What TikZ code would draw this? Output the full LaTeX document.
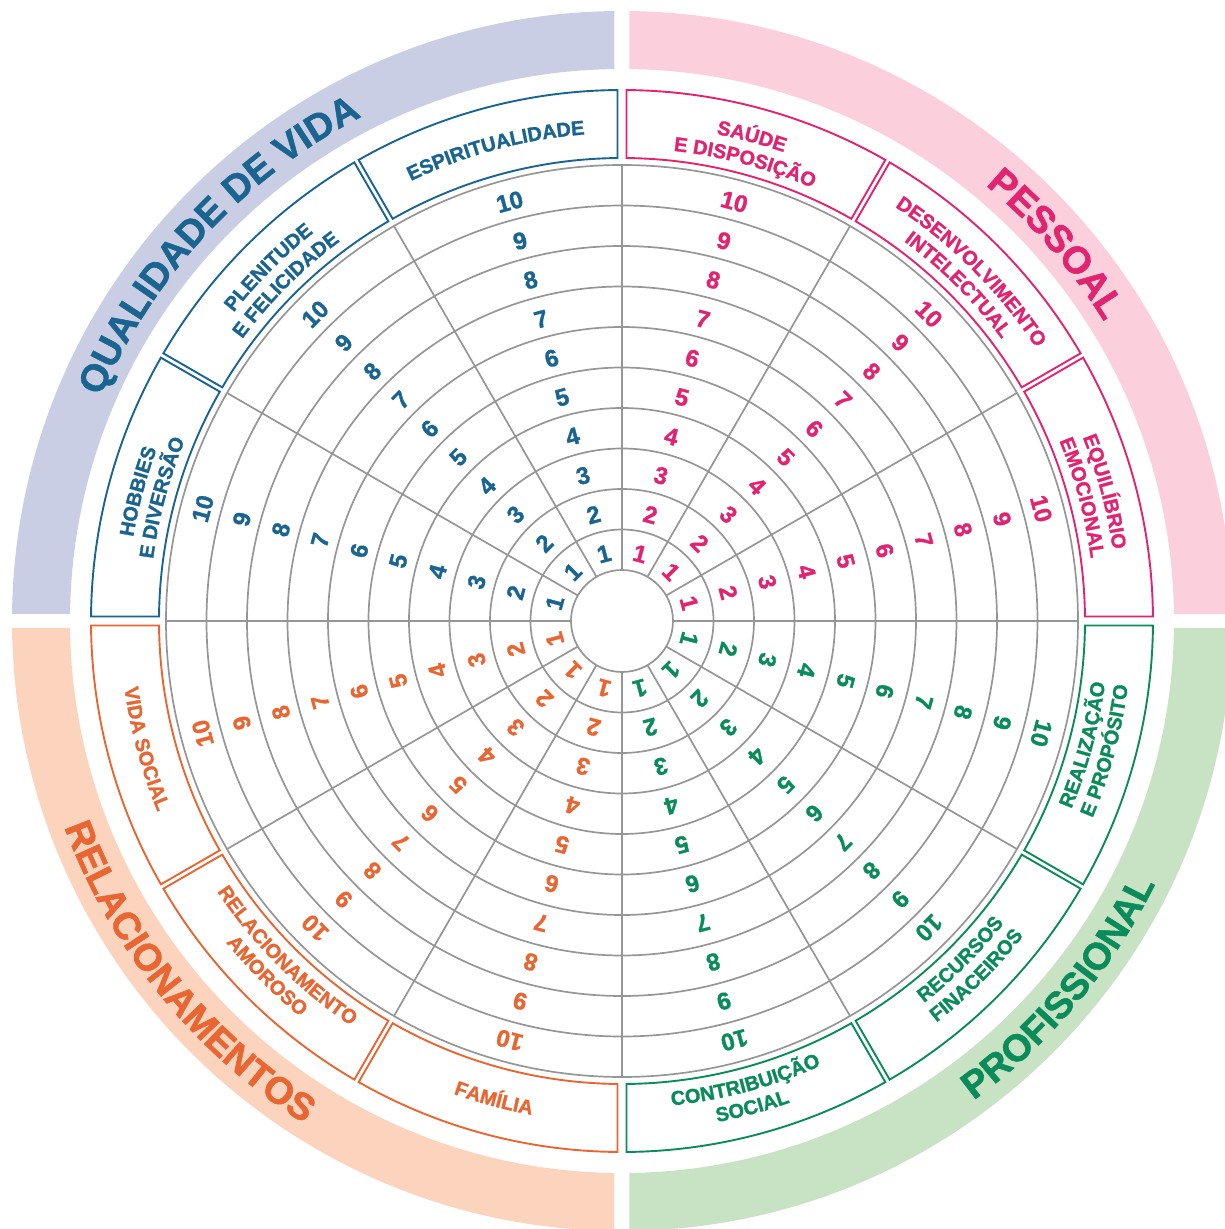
\documentclass[tikz,border=0pt]{standalone}
\usepackage{fontspec}
\setmainfont{Liberation Sans}[BoldFeatures={FakeBold=1.4}]
\usepackage{tikz}
\usetikzlibrary{decorations.text}
\usepackage{xcolor}
\definecolor{qvblue}{RGB}{25,100,145}
\definecolor{qvband}{RGB}{201,206,228}
\definecolor{pspink}{RGB}{226,36,112}
\definecolor{psband}{RGB}{251,207,220}
\definecolor{rlorange}{RGB}{233,102,50}
\definecolor{rlband}{RGB}{252,212,190}
\definecolor{prgreen}{RGB}{10,140,90}
\definecolor{prband}{RGB}{200,226,196}
\definecolor{gridgray}{RGB}{150,150,150}
\newcommand\numfont{\fontsize{24}{24}\selectfont\bfseries}
\newcommand\lblfont{\fontsize{20}{20}\selectfont\bfseries}
\newcommand\ttlfont{\fontsize{38}{38}\selectfont\bfseries}
\tikzset{
	gridline/.style={draw=gridgray, line width=1.7pt},
	labelbox/.style={line width=1.9pt, fill=white},
	num/.style={font=\numfont, inner sep=0pt},
}

\begin{document}
\begin{tikzpicture}[x=1pt,y=1pt]
		\useasboundingbox (-622,-608) rectangle (603,621);
		\clip (-622,-608) rectangle (603,621);
		% bandas
		\foreach \sx/\sy/\col in {1/1/psband,-1/1/qvband,-1/-1/rlband,1/-1/prband}{
		\begin{scope}
		\clip (\sx*7.5,\sy*7.5) rectangle (\sx*700,\sy*700);
		\fill[\col, even odd rule] (0,0) circle[radius=610] circle[radius=552];
		\end{scope}
		}
		% rejilla
		\foreach \k [evaluate=\k as \r using 51+40.5*\k] in {0,...,10}
		\draw[gridline] (0,0) circle[radius=\r];
		\foreach \a in {0,30,...,330}
		\draw[gridline] (\a:51) -- (\a:456);
		% cajas y numeros
		\foreach \j/\col in {0/pspink,1/pspink,2/pspink,3/qvblue,4/qvblue,5/qvblue,6/rlorange,7/rlorange,8/rlorange,9/prgreen,10/prgreen,11/prgreen}{
		\pgfmathsetmacro\da{mod(\j,3)==0 ? 4.5 : 2.5}
		\pgfmathsetmacro\db{mod(\j,3)==2 ? 4.5 : 2.5}
		\pgfmathsetmacro\ai{30*\j+asin(\da/463)}
		\pgfmathsetmacro\bi{30*\j+30-asin(\db/463)}
		\pgfmathsetmacro\ao{30*\j+asin(\da/531)}
		\pgfmathsetmacro\bo{30*\j+30-asin(\db/531)}
		\draw[labelbox, draw=\col] (\ai:463) arc[start angle=\ai, end angle=\bi, radius=463]
		-- (\bo:531) arc[start angle=\bo, end angle=\ao, radius=531] -- cycle;
		\pgfmathsetmacro\th{30*\j+15}
		\foreach \k [evaluate=\k as \r using 51+40.5*\k-22] in {1,...,10}
		\node[num, text=\col, rotate=\th-90] (n\j-\k) at (\th:\r) {\k};
		}
		% etiquetas de arriba
		\foreach \th/\r/\col/\txt in {15/496/pspink/EQUILÍBRIO, 15/473/pspink/EMOCIONAL,
		45/496/pspink/DESENVOLVIMENTO, 45/473/pspink/INTELECTUAL,
		75/496/pspink/SAÚDE, 75/473/pspink/E DISPOSIÇÃO,
		105/488/qvblue/ESPIRITUALIDADE,
		135/496/qvblue/PLENITUDE, 135/473/qvblue/E FELICIDADE,
		165/496/qvblue/HOBBIES, 165/473/qvblue/E DIVERSÃO}
		\path[decorate, decoration={text along path, text/.expanded={|\noexpand\lblfont|\txt}, text align=center, text color=\col}]
		(\th+14:\r) arc[start angle=\th+14, end angle=\th-14, radius=\r];
		% etiquetas de abajo
		\foreach \th/\r/\col/\txt in {195/502/rlorange/VIDA SOCIAL,
		225/487/rlorange/RELACIONAMENTO, 225/510/rlorange/AMOROSO,
		255/502/rlorange/FAMÍLIA,
		285/487/prgreen/CONTRIBUIÇÃO, 285/510/prgreen/SOCIAL,
		315/487/prgreen/RECURSOS, 315/510/prgreen/FINACEIROS,
		345/487/prgreen/REALIZAÇÃO, 345/510/prgreen/E PROPÓSITO}
		\path[decorate, decoration={text along path, text/.expanded={|\noexpand\lblfont|\txt}, text align=center, text color=\col}]
		(\th-14:\r) arc[start angle=\th-14, end angle=\th+14, radius=\r];
		% titulos
		\path[decorate, decoration={text along path, text={|\ttlfont|QUALIDADE DE VIDA}, text align=center, text color=qvblue}]
		(167:567.5) arc[start angle=167, end angle=107, radius=567.5];
		\path[decorate, decoration={text along path, text={|\ttlfont|PESSOAL}, text align=center, text color=pspink}]
		(71:567.5) arc[start angle=71, end angle=11, radius=567.5];
		\path[decorate, decoration={text along path, text={|\ttlfont|RELACIONAMENTOS}, text align=center, text color=rlorange}]
		(189:594.5) arc[start angle=189, end angle=249, radius=594.5];
		\path[decorate, decoration={text along path, text={|\ttlfont|PROFISSIONAL}, text align=center, text color=prgreen}]
		(290:594.5) arc[start angle=290, end angle=350, radius=594.5];
\end{tikzpicture}
\end{document}
